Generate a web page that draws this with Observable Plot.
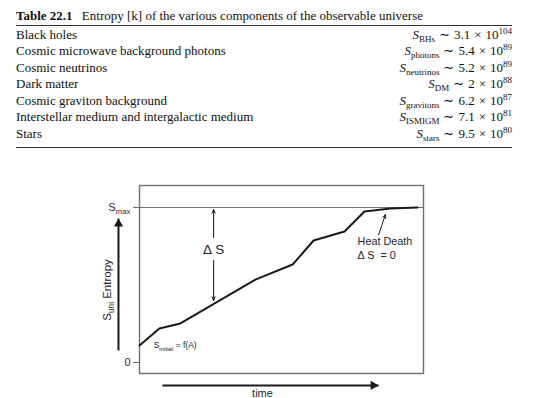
<!DOCTYPE html>
<html>
<head>
<meta charset="utf-8">
<script src="https://cdn.jsdelivr.net/npm/d3@7"></script>
<script src="https://cdn.jsdelivr.net/npm/@observablehq/plot@0.6"></script>
<style>
  html, body { margin: 0; padding: 0; background: #fff; }
  body { width: 540px; height: 398px; position: relative; overflow: hidden; }
  #tbl { position: absolute; left: 16px; top: 8px; width: 496px;
         font-family: "Liberation Serif", "Times New Roman", serif; font-size: 13px; color: #111; }
  #tbl .title { height: 16.5px; line-height: 16.5px; border-bottom: 1.3px solid #333; white-space: nowrap; }
  #tbl .title b { margin-right: 6px; }
  #tbl table { border-collapse: collapse; width: 100%; border-bottom: 1.6px solid #333; margin-top: 1px; }
  #tbl td { padding: 0; height: 16.5px; line-height: 16.5px; white-space: nowrap; }
  #tbl tr:last-child td { padding-bottom: 5px; }
  #tbl td.v { text-align: right; }
  #tbl .sub { font-size: 9px; line-height: 0; position: relative; top: 3px; }
  #tbl .sup { font-size: 9px; line-height: 0; position: relative; top: -5px; }
  #tbl .op { margin: 0 4px; }
  #chart { position: absolute; left: 0; top: 150px; width: 540px; }
</style>
</head>
<body>
<div id="tbl"></div>
<div id="chart"></div>
<script>
// ---- Table data ----
const tableTitleBold = "Table 22.1";
const tableTitle = "Entropy [k] of the various components of the observable universe";
const components = ["Black holes", "Cosmic microwave background photons", "Cosmic neutrinos",
  "Dark matter", "Cosmic graviton background", "Interstellar medium and intergalactic medium", "Stars"];
const symbols = ["BHs", "photons", "neutrinos", "DM", "gravitons", "ISMIGM", "stars"];
const mantissas = ["3.1", "5.4", "5.2", "2", "6.2", "7.1", "9.5"];
const exponents = ["104", "89", "89", "88", "87", "81", "80"];

// ---- Chart data ----
const times   = [0, 7.0, 14.4, 40.8, 53.9, 61.3, 72.2, 79.2, 88.4, 97.9];
const entropy = [1.1, 2.19, 2.52, 5.35, 6.32, 7.87, 8.45, 9.74, 9.94, 10];
const S_MAX = 10;
const S_INITIAL = 1.1;
const yTicks = [0, S_MAX];
const yTickLabels = ["0", "S_{max}"];
const labels = {
  deltaS: "Δ S",
  heat: "Heat Death\nΔ S\u00a0 = 0",
  initial: "S_{initial} = f(A)",
  yLabel: "S_{uni} Entropy",
  xLabel: "time"
};
// annotation anchors (data units)
const deltaArrows = [
  {x1: 26.1, y1: 8.06, x2: 26.1, y2: 9.87},
  {x1: 26.1, y1: 6.58, x2: 26.1, y2: 4.0}
];
const heatArrow = [{x1: 84.2, y1: 8.25, x2: 86.6, y2: 9.55}];
const entropyArrow = [{x1: -7.4, y1: 0.77, x2: -7.4, y2: 9.29}];
const timeArrow = [{x1: 8.1, y1: -1.48, x2: 84.2, y2: -1.48}];

// ---- Build table ----
const tbl = document.getElementById("tbl");
const t = document.createElement("div");
t.className = "title";
t.innerHTML = `<b>${tableTitleBold}</b> ${tableTitle}`;
tbl.appendChild(t);
const table = document.createElement("table");
components.forEach((c, i) => {
  const tr = document.createElement("tr");
  const td1 = document.createElement("td");
  td1.textContent = c;
  const td2 = document.createElement("td");
  td2.className = "v";
  td2.innerHTML = `<i>S</i><span class="sub">${symbols[i]}</span><span class="op">∼</span>${mantissas[i]}<span class="op">×</span>10<span class="sup">${exponents[i]}</span>`;
  tr.appendChild(td1); tr.appendChild(td2);
  table.appendChild(tr);
});
tbl.appendChild(table);

// ---- Build chart ----
const lineData = times.map((x, i) => ({time: x, S: entropy[i]}));
const ink = "#1a1a1a";
const gray = "#707070";
const txt = "#262626";

const plot = Plot.plot({
  width: 540,
  height: 248,
  marginLeft: 139,
  marginRight: 117,
  marginTop: 35,
  marginBottom: 25,
  style: {fontFamily: "'Liberation Sans', Arial, sans-serif", fontSize: "11px", color: "#2a2a2a", background: "transparent", overflow: "visible"},
  x: {domain: [0, 100], axis: null},
  y: {domain: [-0.71, 11.42], axis: null},
  marks: [
    Plot.frame({stroke: gray, strokeWidth: 1.4}),
    Plot.ruleY([S_MAX], {stroke: gray, strokeWidth: 1.2}),
    Plot.axisY(yTicks, {tickSize: 6, tickPadding: 3, fontSize: 11, stroke: gray,
      tickFormat: d => yTickLabels[yTicks.indexOf(d)], label: null}),
    Plot.line(lineData, {x: "time", y: "S", stroke: ink, strokeWidth: 2}),
    Plot.arrow(deltaArrows, {x1: "x1", y1: "y1", x2: "x2", y2: "y2", stroke: ink, strokeWidth: 1, headLength: 6, headAngle: 45}),
    Plot.text([labels.deltaS], {x: deltaArrows[0].x1, y: 7.25, text: d => d, fontSize: 13.5, fill: txt}),
    Plot.arrow(heatArrow, {x1: "x1", y1: "y1", x2: "x2", y2: "y2", stroke: ink, strokeWidth: 1, headLength: 6, headAngle: 45}),
    Plot.text([labels.heat], {x: 76.8, y: 7.39, text: d => d, textAnchor: "start", fontSize: 10.8, lineHeight: 1.3, fill: txt}),
    Plot.text([labels.initial], {x: 5.0, y: S_INITIAL, text: d => d, textAnchor: "start", fontSize: 8.5, fill: txt}),
    // big arrows: shaft + filled triangle head
    Plot.link(entropyArrow, {x1: "x1", y1: "y1", x2: "x2", y2: "y2", stroke: ink, strokeWidth: 2}),
    Plot.dot(entropyArrow, {x: "x2", y: "y2", symbol: "triangle", r: 3.4, fill: ink, stroke: "none", dy: 5.3}),
    Plot.link(timeArrow, {x1: "x1", y1: "y1", x2: "x2", y2: "y2", stroke: ink, strokeWidth: 2}),
    Plot.dot(timeArrow, {x: "x2", y: "y2", symbol: "triangle", r: 3.4, fill: ink, stroke: "none", rotate: 90, dx: -5.3}),
    Plot.text([labels.yLabel], {x: -11.4, y: 4.68, text: d => d, rotate: -90, fontSize: 11.5, fill: txt}),
    Plot.text([labels.xLabel], {x: 43.3, y: -2.0, text: d => d, fontSize: 11, fill: txt})
  ]
});

// render "_{...}" as subscripts
d3.select(plot).selectAll("text").each(function() {
  const el = d3.select(this);
  if (el.selectAll("tspan").size() > 0) return;
  const s = this.textContent;
  const m = s.match(/^(.*?)_\{(.+?)\}(.*)$/);
  if (!m) return;
  this.textContent = "";
  el.append("tspan").text(m[1]);
  el.append("tspan").attr("dy", 3).attr("font-size", "0.72em").text(m[2]);
  if (m[3]) el.append("tspan").attr("dy", -3).text(m[3]);
});

document.getElementById("chart").appendChild(plot);
</script>
</body>
</html>
